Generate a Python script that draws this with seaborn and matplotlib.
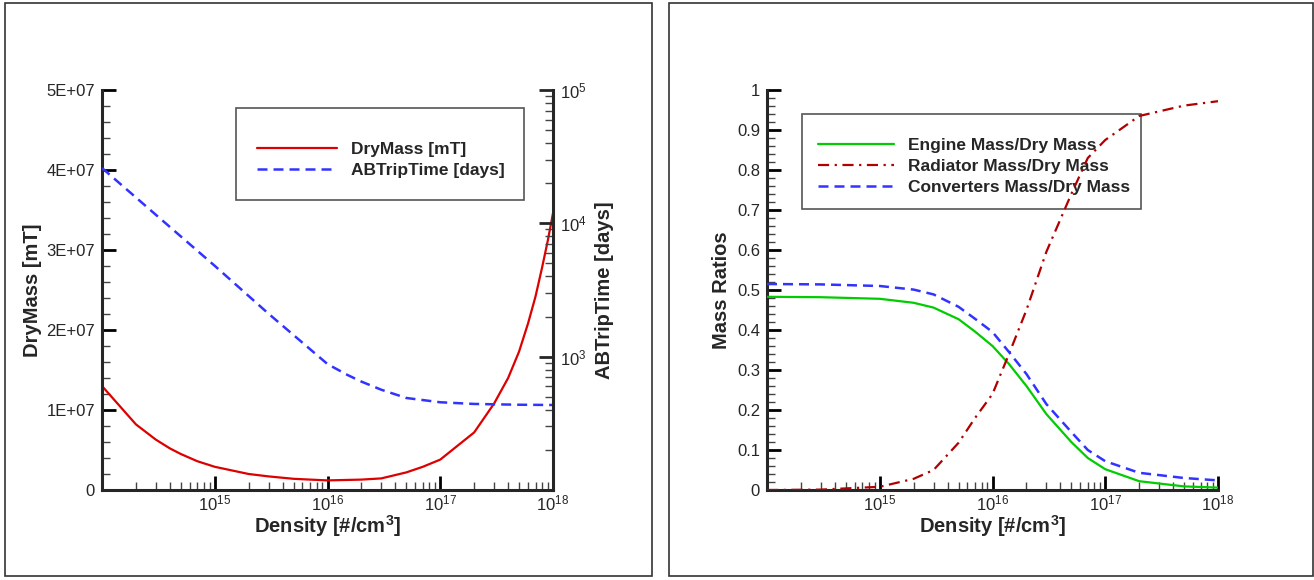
import pandas as pd
import matplotlib
matplotlib.use("Agg")
from matplotlib import pyplot as plt
from matplotlib.patches import Rectangle
from matplotlib.ticker import LogLocator, MultipleLocator, NullFormatter
import seaborn as sns

# left panel: dry mass and trip time vs density
dens_mass = [1e14, 2e14, 3e14, 4e14, 5e14, 7e14, 1e15, 2e15, 3e15, 5e15, 7e15,
             1e16, 2e16, 3e16, 5e16, 7e16, 1e17, 2e17, 3e17, 4e17, 5e17, 6e17,
             7e17, 8e17, 9e17, 1e18]
dry_mass = [1.30e7, 8.2e6, 6.3e6, 5.2e6, 4.5e6, 3.6e6, 2.9e6, 2.0e6, 1.7e6, 1.4e6, 1.3e6,
            1.2e6, 1.3e6, 1.45e6, 2.2e6, 2.9e6, 3.8e6, 7.2e6, 1.08e7, 1.4e7, 1.73e7, 2.08e7,
            2.42e7, 2.78e7, 3.12e7, 3.46e7]

dens_trip = [1e14, 3e14, 1e15, 3e15, 1e16, 1.5e16, 2e16, 3e16, 5e16, 1e17, 2e17, 5e17, 1e18]
trip_time = [2.6e4, 1.16e4, 4.8e3, 2.1e3, 880, 730, 650, 565, 490, 455, 442, 436, 434]

# right panel: mass ratios vs density
dens_ratio = [1e14, 3e14, 1e15, 2e15, 3e15, 5e15, 7e15, 1e16, 1.4e16, 2e16, 3e16,
              5e16, 7e16, 1e17, 2e17, 5e17, 1e18]
engine = [0.483, 0.482, 0.478, 0.468, 0.456, 0.427, 0.396, 0.36, 0.315, 0.26, 0.19,
          0.12, 0.08, 0.052, 0.022, 0.009, 0.006]
radiator = [0.0, 0.001, 0.008, 0.028, 0.05, 0.118, 0.18, 0.24, 0.34, 0.45, 0.595,
            0.74, 0.83, 0.875, 0.935, 0.961, 0.972]
converters = [0.515, 0.514, 0.510, 0.501, 0.489, 0.458, 0.428, 0.395, 0.345, 0.29, 0.215,
              0.145, 0.1, 0.072, 0.043, 0.03, 0.024]

sns.set_style("ticks")
plt.rcParams["font.family"] = ["Liberation Sans", "DejaVu Sans"]
plt.rcParams["mathtext.fontset"] = "custom"
plt.rcParams["mathtext.rm"] = "Liberation Sans"
plt.rcParams["mathtext.bf"] = "Liberation Sans:bold"

fig = plt.figure(figsize=(13.14, 5.8), dpi=100)

# panel frames
fig.add_artist(Rectangle((5 / 1314, 4 / 580), 647 / 1314, 573 / 580,
                         transform=fig.transFigure, fill=False, ec="#333333", lw=1.2))
fig.add_artist(Rectangle((669 / 1314, 4 / 580), 644 / 1314, 573 / 580,
                         transform=fig.transFigure, fill=False, ec="#333333", lw=1.2))

ax1 = fig.add_axes([102 / 1314, 90 / 580, 451 / 1314, 400 / 580])
ax2 = ax1.twinx()
ax3 = fig.add_axes([767 / 1314, 90 / 580, 451 / 1314, 400 / 580])

df_mass = pd.DataFrame({"Density": dens_mass, "DryMass": dry_mass})
df_trip = pd.DataFrame({"Density": dens_trip, "ABTripTime": trip_time})
df_ratio = pd.DataFrame({"Density": dens_ratio, "Engine": engine,
                         "Radiator": radiator, "Converters": converters})

sns.lineplot(data=df_mass, x="Density", y="DryMass", ax=ax1, color="#dd0000",
             linewidth=1.6, label="DryMass [mT]", legend=False)
sns.lineplot(data=df_trip, x="Density", y="ABTripTime", ax=ax2, color="#3333ff",
             linewidth=1.8, linestyle=(0, (4, 2.4)), label="ABTripTime [days]", legend=False)

sns.lineplot(data=df_ratio, x="Density", y="Engine", ax=ax3, color="#00cc00",
             linewidth=1.6, label="Engine Mass/Dry Mass", legend=False, zorder=3)
sns.lineplot(data=df_ratio, x="Density", y="Radiator", ax=ax3, color="#b00000",
             linewidth=1.6, linestyle=(0, (5, 2.5, 1, 2.5)), label="Radiator Mass/Dry Mass",
             legend=False, zorder=3)
sns.lineplot(data=df_ratio, x="Density", y="Converters", ax=ax3, color="#3333ff",
             linewidth=1.8, linestyle=(0, (4, 2.4)), label="Converters Mass/Dry Mass",
             legend=False, zorder=3)

xlabel = r"Density [#/cm$^{\mathbf{3}}$]"
for ax in (ax1, ax3):
    ax.set_xscale("log")
    ax.set_xlim(1e14, 1e18)
    ax.set_xticks([1e15, 1e16, 1e17, 1e18])
    ax.xaxis.set_minor_locator(LogLocator(base=10, subs=range(2, 10), numticks=20))
    ax.xaxis.set_minor_formatter(NullFormatter())
    ax.set_xlabel(xlabel, fontsize=14.5, fontweight="bold", labelpad=0)
    for s in ("top", "right"):
        ax.spines[s].set_visible(False)
    for s in ("left", "bottom"):
        ax.spines[s].set_linewidth(2.2)
    ax.tick_params(which="major", direction="in", length=10, width=2, labelsize=12,
                   pad=5, color="black")
    ax.tick_params(axis="x", which="major", pad=2.5)
    ax.tick_params(which="minor", direction="in", length=6, width=1, color="#444444")

ax1.set_ylim(0, 5e7)
ax1.yaxis.set_major_locator(MultipleLocator(1e7))
ax1.yaxis.set_minor_locator(MultipleLocator(2e6))
ax1.set_yticks([0, 1e7, 2e7, 3e7, 4e7, 5e7],
               ["0", "1E+07", "2E+07", "3E+07", "4E+07", "5E+07"])
ax1.set_ylabel("DryMass [mT]", fontsize=14.5, fontweight="bold", labelpad=3)

ax2.set_yscale("log")
ax2.set_ylim(1e2, 1e5)
ax2.set_yticks([1e3, 1e4, 1e5])
ax2.yaxis.set_minor_locator(LogLocator(base=10, subs=range(2, 10), numticks=20))
ax2.yaxis.set_minor_formatter(NullFormatter())
for s in ("top", "left", "bottom"):
    ax2.spines[s].set_visible(False)
ax2.spines["right"].set_linewidth(2.2)
ax2.tick_params(which="major", direction="in", length=10, width=2, labelsize=12, pad=5)
ax2.tick_params(which="minor", direction="in", length=6, width=1, color="#444444")
ax2.set_ylabel("ABTripTime [days]", fontsize=14.5, fontweight="bold", labelpad=6)

ax3.set_ylim(0, 1)
ax3.yaxis.set_major_locator(MultipleLocator(0.1))
ax3.yaxis.set_minor_locator(MultipleLocator(0.02))
ax3.set_yticks([0, 0.1, 0.2, 0.3, 0.4, 0.5, 0.6, 0.7, 0.8, 0.9, 1.0],
               ["0", "0.1", "0.2", "0.3", "0.4", "0.5", "0.6", "0.7", "0.8", "0.9", "1"])
ax3.set_ylabel("Mass Ratios", fontsize=14.5, fontweight="bold", labelpad=4)

# legend boxes drawn as plain rectangles, entries placed inside without a frame
ax2.add_patch(Rectangle((0.297, 0.725), 0.639, 0.23, transform=ax2.transAxes,
                        facecolor="white", edgecolor="#555555", lw=1.2, zorder=4))
ax3.add_patch(Rectangle((0.0776, 0.7025), 0.7517, 0.2375, transform=ax3.transAxes,
                        facecolor="white", edgecolor="#555555", lw=1.2, zorder=2))

h1, l1 = ax1.get_legend_handles_labels()
h2, l2 = ax2.get_legend_handles_labels()
leg1 = ax2.legend(h1 + h2, l1 + l2, loc="upper left", bbox_to_anchor=(0.344, 0.87),
                  borderaxespad=0, borderpad=0, frameon=False,
                  prop={"weight": "bold", "size": 12.5}, handlelength=4.6,
                  handletextpad=0.8, labelspacing=0.33)
leg1.set_zorder(5)

leg3 = ax3.legend(loc="upper left", bbox_to_anchor=(0.113, 0.88),
                  borderaxespad=0, borderpad=0, frameon=False,
                  prop={"weight": "bold", "size": 12.5}, handlelength=4.4,
                  handletextpad=0.8, labelspacing=0.33)
leg3.set_zorder(2.5)

fig.savefig("out.png", dpi=100)
